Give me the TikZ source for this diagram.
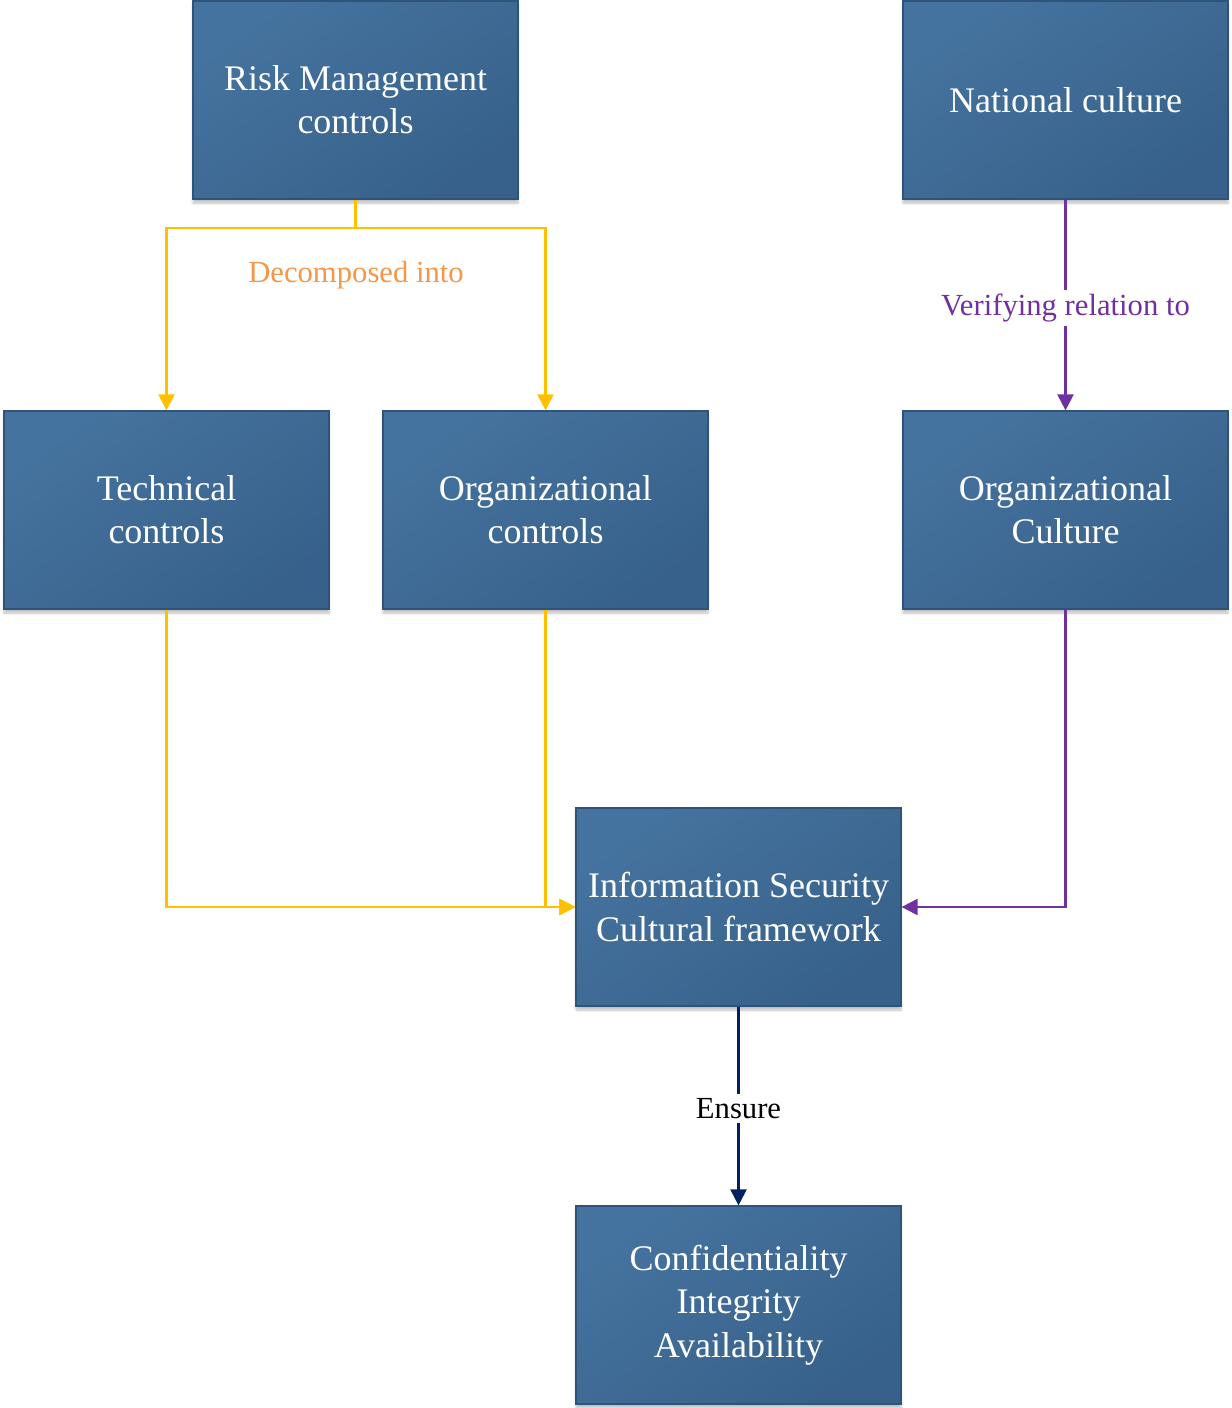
\documentclass[tikz,border=0pt]{standalone}
\usepackage{fontspec}
\setmainfont{Liberation Serif}
\usetikzlibrary{arrows.meta,shadows.blur,calc}

\definecolor{boxlight}{HTML}{45739F}
\definecolor{boxdark}{HTML}{37618A}
\definecolor{boxedge}{HTML}{2F5479}
\definecolor{flowyellow}{HTML}{FFC000}
\definecolor{laborange}{HTML}{F79646}
\definecolor{flowpurple}{HTML}{7030A0}
\definecolor{flownavy}{HTML}{002060}

\tikzset{
  block/.style={
    draw=boxedge, line width=0.9pt,
    top color=boxlight, bottom color=boxdark, shading angle=35,
    minimum width=243.75pt, minimum height=148.5pt,
    inner sep=0pt, align=center, text=white,
    font=\fontsize{27}{32.5}\selectfont,
    blur shadow={shadow xshift=0pt, shadow yshift=-3pt, shadow blur steps=6, shadow opacity=25}
  },
  link/.style={line width=1.6pt, -{Triangle[length=12pt,width=12pt]}},
  plain/.style={line width=1.6pt},
  lab/.style={font=\fontsize{23}{27}\selectfont, inner sep=3pt, yshift=-2pt}
}

\begin{document}
\begin{tikzpicture}[x=0.75pt, y=-0.75pt]
  \useasboundingbox (0,0) rectangle (1231,1408);

  % boxes
  \node[block] (risk)  at (355.5,100)  {Risk Management\\controls};
  \node[block] (nat)   at (1065.5,100) {National culture};
  \node[block] (tech)  at (166.5,510)  {Technical\\controls};
  \node[block] (orgc)  at (545.5,510)  {Organizational\\controls};
  \node[block] (orgcu) at (1065.5,510) {Organizational\\Culture};
  \node[block] (iscf)  at (738.5,907)  {Information Security\\Cultural framework};
  \node[block] (cia)   at (738.5,1305) {Confidentiality\\Integrity\\Availability};

  % risk management splits into the two control families
  \coordinate (split) at ($(risk.south)+(0,28)$);
  \draw[plain, flowyellow] (risk.south) -- (split);
  \draw[link, flowyellow] (split) -| (tech.north);
  \draw[link, flowyellow] (split) -| (orgc.north);
  \node[lab, text=laborange] (decomp) at (356,272) {Decomposed into};

  % both control families feed the framework
  \draw[link, flowyellow] (tech.south) |- (iscf.west);
  \draw[link, flowyellow] (orgc.south) |- (iscf.west);

  % culture chain
  \draw[link, flowpurple] (nat.south) -- node[lab, fill=white, text=flowpurple] (verif) {Verifying relation to} (orgcu.north);
  \draw[link, flowpurple] (orgcu.south) |- (iscf.east);

  % framework ensures the CIA triad
  \draw[link, flownavy] (iscf.south) -- node[lab, fill=white, text=black] (ens) {Ensure} (cia.north);
\end{tikzpicture}
\end{document}
